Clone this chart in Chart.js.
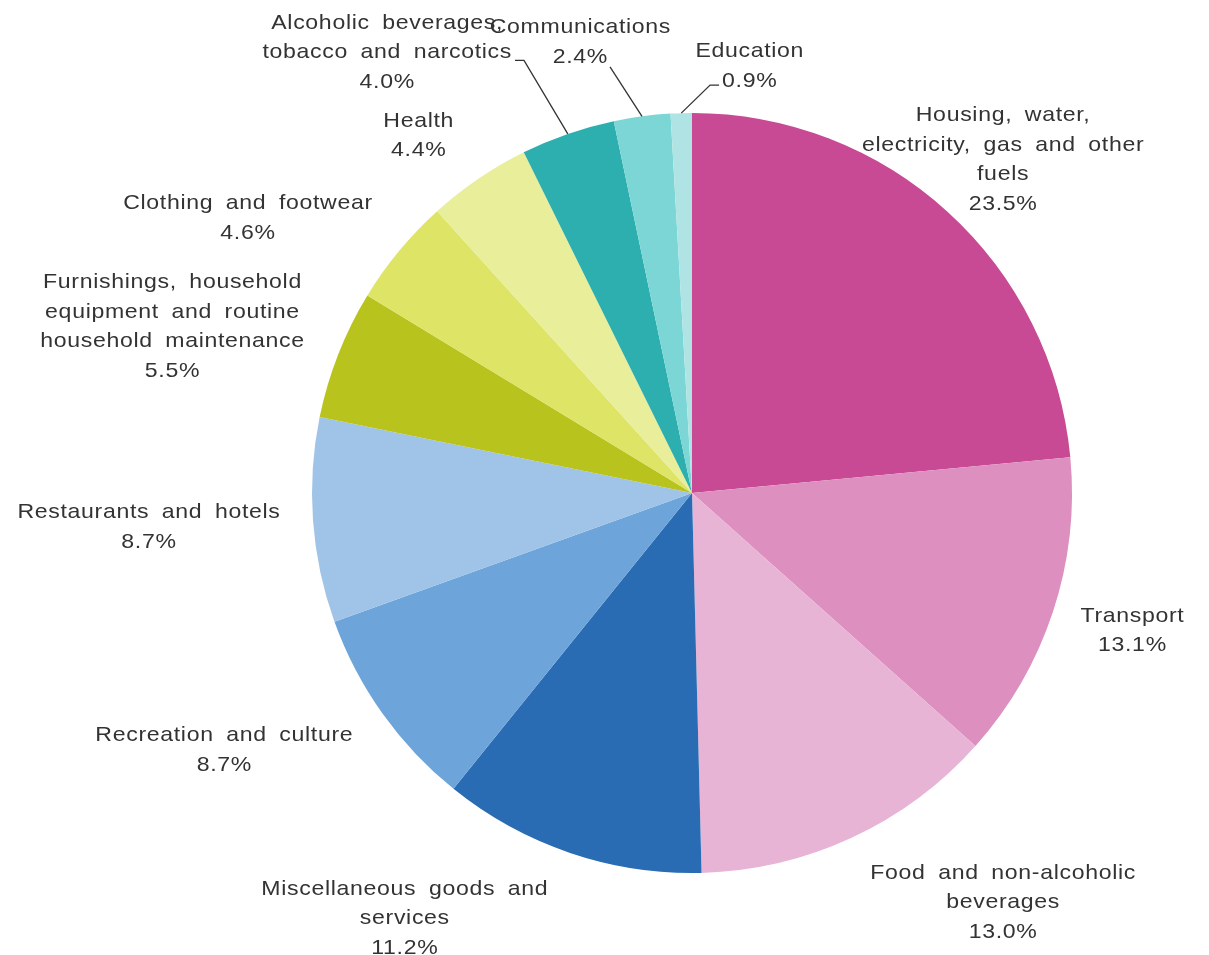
<!DOCTYPE html>
<html>
<head>
<meta charset="utf-8">
<title>Household consumption expenditure</title>
<script src="https://cdn.jsdelivr.net/npm/chart.js@4.4.1/dist/chart.umd.min.js"></script>
<style>
    html, body { margin: 0; padding: 0; background: #ffffff; }
    #wrap { width: 1209px; height: 955px; position: relative; }
</style>
</head>
<body>
<div id="wrap"><canvas id="pie"></canvas></div>
<script>
// categories, clockwise from 12 o'clock
const categories = [
    'Housing, water, electricity, gas and other fuels',
    'Transport',
    'Food and non-alcoholic beverages',
    'Miscellaneous goods and services',
    'Recreation and culture',
    'Restaurants and hotels',
    'Furnishings, household equipment and routine household maintenance',
    'Clothing and footwear',
    'Health',
    'Alcoholic beverages, tobacco and narcotics',
    'Communications',
    'Education'
];

// share of total, %
const shares = [23.5, 13.1, 13.0, 11.2, 8.7, 8.7, 5.5, 4.6, 4.4, 4.0, 2.4, 0.9];

// label text, line by line
const labelLines = [
    ['Housing, water,', 'electricity, gas and other', 'fuels'],
    ['Transport'],
    ['Food and non-alcoholic', 'beverages'],
    ['Miscellaneous goods and', 'services'],
    ['Recreation and culture'],
    ['Restaurants and hotels'],
    ['Furnishings, household', 'equipment and routine', 'household maintenance'],
    ['Clothing and footwear'],
    ['Health'],
    ['Alcoholic beverages,', 'tobacco and narcotics'],
    ['Communications'],
    ['Education']
];

const sliceColors = [
    '#C84A94', '#DD8FC0', '#E7B4D6', '#2A6CB3', '#6DA4DA', '#A0C3E8',
    '#B9C31E', '#DEE465', '#E9EE9B', '#2DAFAF', '#7DD6D6', '#B0E4E4'
];

// where each label block sits: turn (deg) off the slice middle, and gap past the rim (px)
const labelPlace = [
    { turn: 0.6, gap: 77 },
    { turn: -1.0, gap: 81 },
    { turn: -12.5, gap: 133 },
    { turn: 15.4, gap: 132 },
    { turn: 6.8, gap: 153 },
    { turn: 0.7, gap: 164 },
    { turn: -3.5, gap: 166 },
    { turn: -7.7, gap: 143 },
    { turn: -3.1, gap: 71 },
    { turn: -15.5, gap: 157, leader: 'right' },
    { turn: -6.3, gap: 86, leader: 'below' },
    { turn: 9.3, gap: 52, leader: 'left' }
];

const FONT = '21px "Liberation Sans", Arial, sans-serif';
const LINE_H = 29.5;
const STRETCH = 1.1;
const TEXT_COLOR = '#333333';

function textWidth(ctx, s) {
    return ctx.measureText(s).width * STRETCH;
}

function drawLine(ctx, s, x, y) {
    ctx.save();
    ctx.translate(x, y);
    ctx.scale(STRETCH, 1);
    ctx.fillText(s, 0, 0);
    ctx.restore();
}

const outsideLabels = {
    id: 'outsideLabels',
    afterDatasetsDraw(chart) {
        const ctx = chart.ctx;
        const meta = chart.getDatasetMeta(0);
        const data = chart.data.datasets[0].data;
        ctx.save();
        ctx.font = FONT;
        ctx.fillStyle = TEXT_COLOR;
        ctx.textAlign = 'center';
        ctx.textBaseline = 'middle';
        if ('wordSpacing' in ctx) ctx.wordSpacing = '5px';
        if ('letterSpacing' in ctx) ctx.letterSpacing = '0.6px';

        meta.data.forEach((arc, i) => {
            const p = arc.getProps(['x', 'y', 'startAngle', 'endAngle', 'outerRadius'], true);
            const mid = (p.startAngle + p.endAngle) / 2;
            const place = labelPlace[i];
            const a = mid + place.turn * Math.PI / 180;
            const d = p.outerRadius + place.gap;
            const cx = p.x + Math.cos(a) * d;
            const cy = p.y + Math.sin(a) * d + 1.5;

            const lines = labelLines[i].concat([data[i].toFixed(1) + '%']);
            const top = cy - (lines.length - 1) * LINE_H / 2;
            lines.forEach((s, k) => drawLine(ctx, s, cx, top + k * LINE_H));

            if (place.leader) {
                const ex = p.x + Math.cos(mid) * p.outerRadius;
                const ey = p.y + Math.sin(mid) * p.outerRadius;
                ctx.save();
                ctx.strokeStyle = '#333333';
                ctx.lineWidth = 1.3;
                ctx.beginPath();
                if (place.leader === 'right') {
                    const k = lines.length - 2;
                    const yy = top + k * LINE_H + 8;
                    const xr = cx + textWidth(ctx, lines[k]) / 2 + 3;
                    ctx.moveTo(ex, ey);
                    ctx.lineTo(xr + 9, yy);
                    ctx.lineTo(xr, yy);
                } else if (place.leader === 'left') {
                    const k = lines.length - 1;
                    const yy = top + k * LINE_H + 4;
                    const xl = cx - textWidth(ctx, lines[k]) / 2 - 3;
                    ctx.moveTo(ex, ey);
                    ctx.lineTo(xl - 9, yy);
                    ctx.lineTo(xl, yy);
                } else {
                    const k = lines.length - 1;
                    const yy = top + k * LINE_H + 10;
                    const xr = cx + textWidth(ctx, lines[k]) / 2 + 2;
                    ctx.moveTo(ex, ey);
                    ctx.lineTo(xr, yy);
                }
                ctx.stroke();
                ctx.restore();
            }
        });
        ctx.restore();
    }
};

new Chart(document.getElementById('pie'), {
    type: 'pie',
    data: {
        labels: categories,
        datasets: [{
            data: shares,
            backgroundColor: sliceColors,
            borderWidth: 0
        }]
    },
    plugins: [outsideLabels],
    options: {
        responsive: true,
        maintainAspectRatio: false,
        animation: false,
        layout: { padding: { left: 312, right: 137, top: 113, bottom: 82 } },
        plugins: {
            legend: { display: false },
            tooltip: { enabled: false }
        }
    }
});
</script>
</body>
</html>
